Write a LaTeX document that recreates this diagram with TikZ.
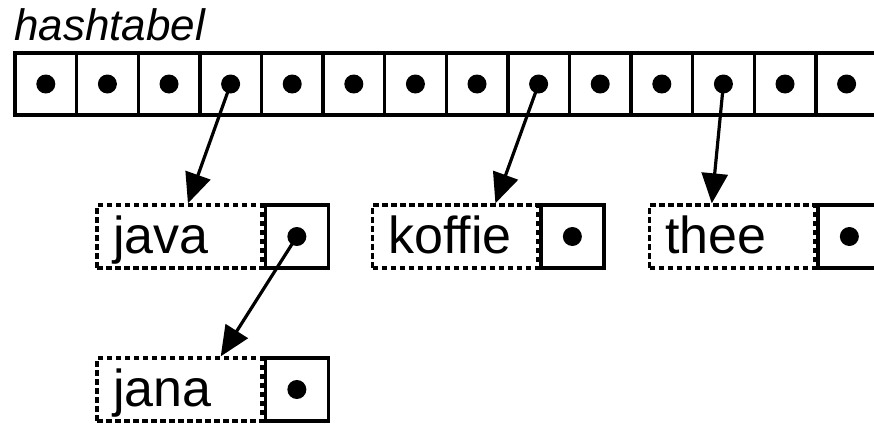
\documentclass[tikz,border=0pt]{standalone}
\usepackage{fontspec}
\setmainfont{Liberation Sans}
\usetikzlibrary{arrows.meta,calc}
\begin{document}
\begin{tikzpicture}[x=1pt,y=-1pt,
  cell/.style={draw,line width=3.4pt,minimum width=61.6pt,minimum height=62pt,inner sep=0pt},
  dot/.style={circle,fill,inner sep=0pt,minimum size=19pt},
  namebox/.style={draw,dash pattern=on 5.5pt off 3.5pt,line width=3.3pt,minimum width=165pt,minimum height=63pt,
    inner xsep=16pt,inner ysep=0pt,text width=133pt,align=left,
    font=\fontsize{52}{52}\selectfont,text height=36pt,text depth=3pt},
  ptrbox/.style={draw,line width=3.4pt,minimum width=63pt,minimum height=63pt,inner sep=0pt},
  arr/.style={line width=3.2pt,-{Triangle[length=30pt,width=26pt]}},
  title/.style={font=\fontsize{44}{44}\selectfont\itshape,inner sep=0pt,anchor=base west}]
\useasboundingbox (0,0) rectangle (874,423);
\node[title] (ttl) at (14,40) {hashtabel};
\foreach \i in {0,...,13}{
  \node[cell] (c\i) at ({15+61.6*(\i+0.5)},84) {};
  \node[dot] (d\i) at (c\i.center) {};
}
% list nodes
\node[namebox] (java) at (179.5,236.5) {java};
\node[ptrbox,anchor=west] (javap) at (java.east) {};
\node[dot] (javad) at (javap.center) {};
\node[namebox] (koffie) at (455,236.5) {koffie};
\node[ptrbox,anchor=west] (koffiep) at (koffie.east) {};
\node[dot] (koffied) at (koffiep.center) {};
\node[namebox] (thee) at (732,236.5) {thee};
\node[ptrbox,anchor=west] (theep) at (thee.east) {};
\node[dot] (theed) at (theep.center) {};
\node[namebox] (jana) at (179.5,389.5) {jana};
\node[ptrbox,anchor=west] (janap) at (jana.east) {};
\node[dot] (janad) at (janap.center) {};
% pointers
\draw[arr] (d3.center) -- ($(java.north west)!0.55!(java.north east)$);
\draw[arr] (d8.center) -- ($(koffie.north west)!0.74!(koffie.north east)$);
\draw[arr] (d11.center) -- ($(thee.north west)!0.38!(thee.north east)$);
\draw[arr] (javad.center) -- ($(jana.north west)!0.745!(jana.north east)$);
\end{tikzpicture}
\end{document}
